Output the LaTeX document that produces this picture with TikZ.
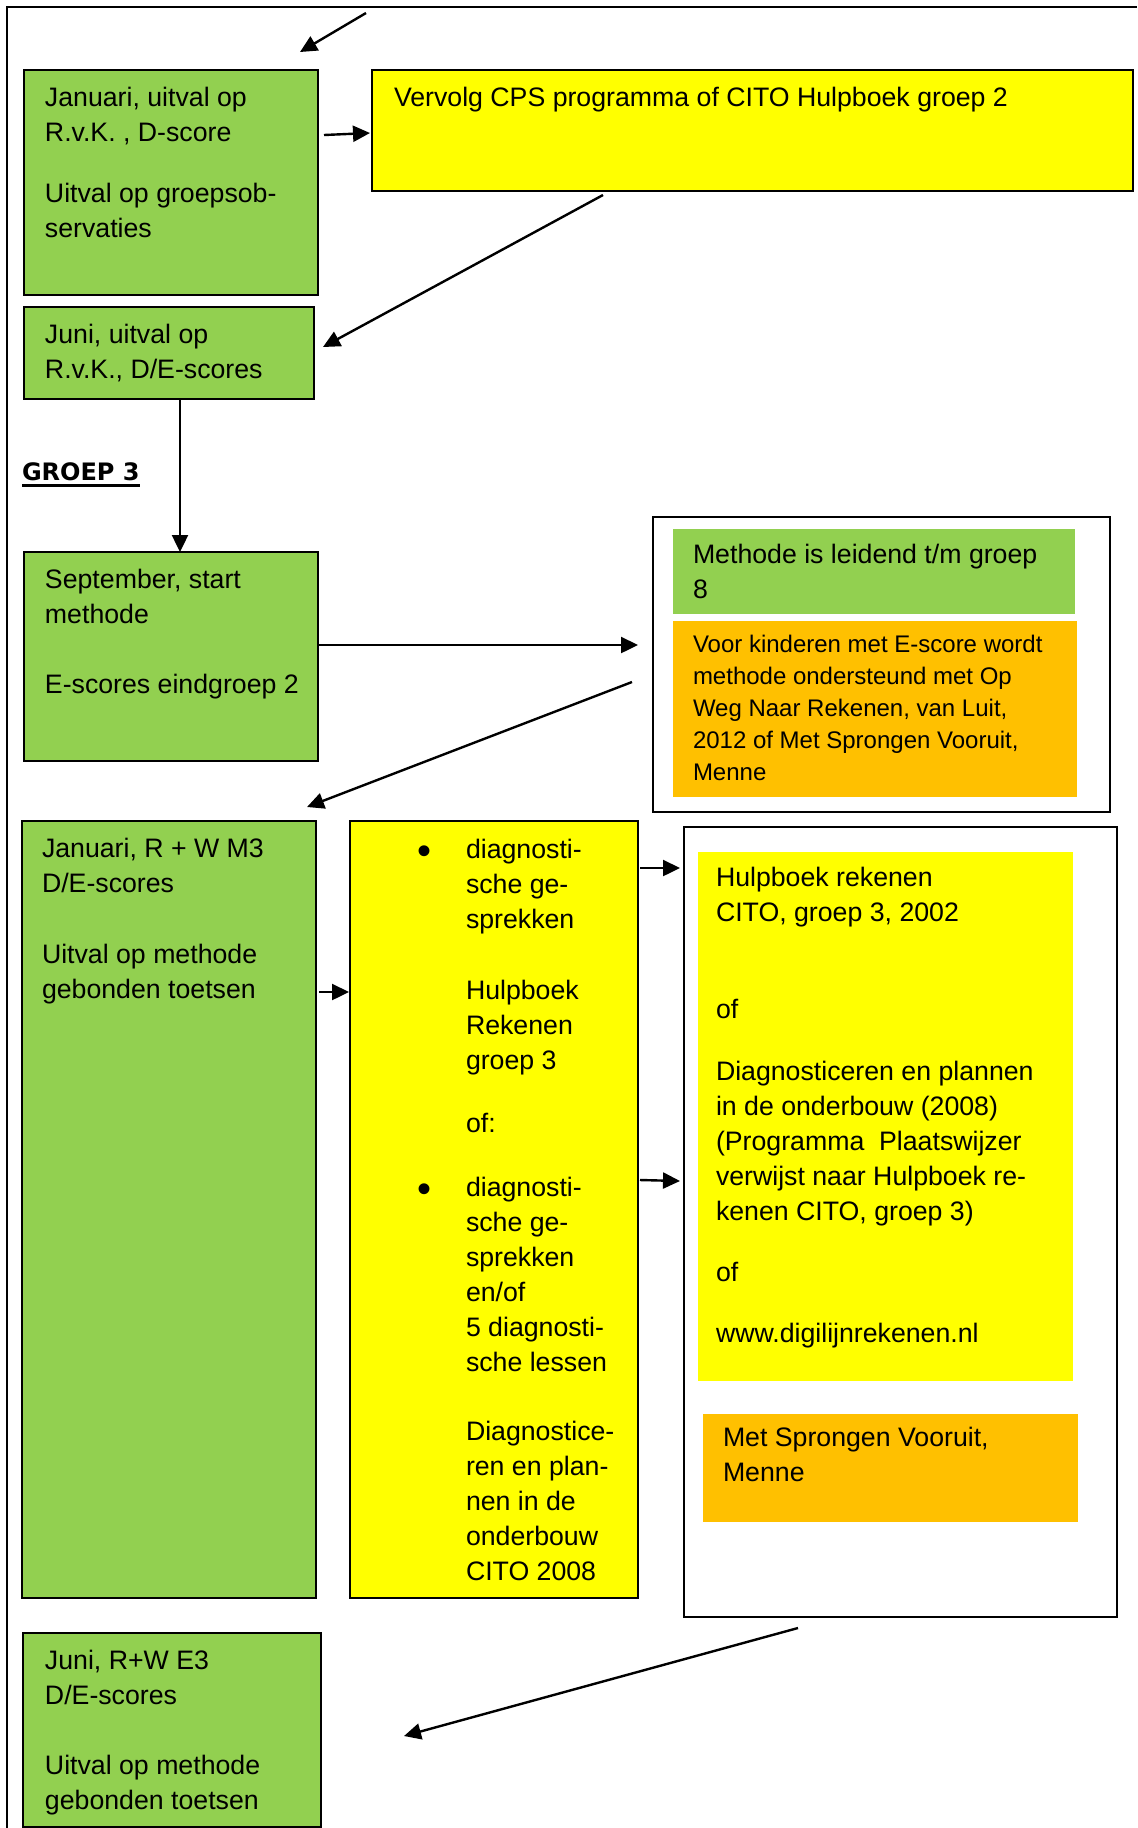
\documentclass[tikz,border=0pt]{standalone}
\usepackage{fontspec}
\setmainfont{Liberation Sans}
\newfontfamily\groepfont{DejaVu Sans}
\usetikzlibrary{arrows.meta}
\definecolor{grn}{HTML}{92D050}
\definecolor{yel}{HTML}{FFFF00}
\definecolor{org}{HTML}{FFC000}
\newcommand\pb[1]{\parbox[t]{420pt}{\raggedright #1}}
\begin{document}
\begin{tikzpicture}[x=0.5pt,y=-0.5pt,
  bx/.style={rectangle, inner sep=0pt, outer sep=0pt, anchor=north west},
  greenbox/.style={bx, fill=grn, draw=black, line width=1pt},
  yellowbox/.style={bx, fill=yel, draw=black, line width=1pt},
  whitebox/.style={bx, fill=white, draw=black, line width=1pt},
  gfill/.style={bx, fill=grn},
  yfill/.style={bx, fill=yel},
  ofill/.style={bx, fill=org},
  txt/.style={anchor=base west, inner sep=0pt, outer sep=0pt, font=\fontsize{13.35pt}{17.5pt}\selectfont},
  smalltxt/.style={txt, font=\fontsize{12pt}{16pt}\selectfont},
  bullettxt/.style={anchor=base, inner sep=0pt, outer sep=0pt, font=\fontsize{20pt}{20pt}\selectfont},
  frame/.style={line width=1.2pt},
  arr/.style={line width=1.2pt, -{Triangle[length=8.5pt,width=8pt]}}]

\useasboundingbox (0,0) rectangle (1137,1828);

% page frame
\coordinate (fbl) at (7,1828);
\coordinate (ftl) at (7,7);
\coordinate (ftr) at (1137,7);
\draw[frame] (fbl) -- (ftl) -- (ftr);

% boxes
\node[greenbox, minimum width=147pt, minimum height=112.5pt] (g1) at (24,70) {};
\node[yellowbox, minimum width=380.5pt, minimum height=60.5pt] (y1) at (372,70) {};
\node[greenbox, minimum width=145pt, minimum height=46pt] (g2) at (24,307) {};
\node[greenbox, minimum width=147pt, minimum height=104.5pt] (g3) at (24,552) {};
\node[whitebox, minimum width=228.5pt, minimum height=147.5pt] (w1) at (653,517) {};
\node[gfill, minimum width=201pt, minimum height=42.5pt] (gi) at (673,529) {};
\node[ofill, minimum width=202pt, minimum height=88pt] (oi) at (673,621) {};
\node[greenbox, minimum width=147pt, minimum height=388.5pt] (g4) at (22,821) {};
\node[yellowbox, minimum width=144pt, minimum height=388.5pt] (y2) at (350,821) {};
\node[whitebox, minimum width=216.5pt, minimum height=395pt] (w2) at (684,827) {};
\node[yfill, minimum width=187.5pt, minimum height=264.5pt] (yi) at (698,852) {};
\node[ofill, minimum width=187.5pt, minimum height=54pt] (oi2) at (703,1414) {};
\node[greenbox, minimum width=149pt, minimum height=97pt] (g5) at (23,1633) {};

% texts
\node[txt] (tg1) at (45,106) {\pb{Januari, uitval op\\R.v.K. , D-score\\[13pt]Uitval op groepsob-\\servaties}};
\node[txt] (ty1) at (394,106) {\pb{Vervolg CPS programma of CITO Hulpboek groep 2}};
\node[txt] (tg2) at (45,343) {\pb{Juni, uitval op\\R.v.K., D/E-scores}};
\node[txt, font=\groepfont\fontsize{12pt}{14pt}\selectfont\bfseries] (groep) at (22,480) {GROEP 3};
\draw[line width=1.5pt] ([yshift=-2.6pt]groep.base west) -- ([yshift=-2.6pt]groep.base east);
\node[txt] (tg3) at (45,588) {\pb{September, start\\methode\\[17.5pt]E-scores eindgroep 2}};
\node[txt] (tgi) at (693,563) {\pb{Methode is leidend t/m groep\\8}};
\node[smalltxt] (toi) at (693,652) {\pb{Voor kinderen met E-score wordt\\methode ondersteund met Op\\Weg Naar Rekenen, van Luit,\\2012 of Met Sprongen Vooruit,\\Menne}};
\node[txt] (tg4) at (42,857) {\pb{Januari, R + W M3\\D/E-scores\\[18pt]Uitval op methode\\gebonden toetsen}};
\node[bullettxt] (bul1) at (424,864) {•};
\node[bullettxt] (bul2) at (424,1202) {•};
\node[txt] (ty2) at (466,858) {\pb{diagnosti-\\sche ge-\\sprekken\\[18pt]Hulpboek\\Rekenen\\groep 3\\[14pt]of:\\[14.5pt]diagnosti-\\sche ge-\\sprekken\\en/of\\5 diagnosti-\\sche lessen\\[17pt]Diagnostice-\\ren en plan-\\nen in de\\onderbouw\\CITO 2008}};
\node[txt] (tyi) at (716,886) {\pb{Hulpboek rekenen\\CITO, groep 3, 2002\\[31pt]of\\[13.5pt]Diagnosticeren en plannen\\in de onderbouw (2008)\\(Programma\ \ Plaatswijzer\\verwijst naar Hulpboek re-\\kenen CITO, groep 3)\\[13pt]of\\[13pt]www.digilijnrekenen.nl}};
\node[txt] (toi2) at (723,1446) {\pb{Met Sprongen Vooruit,\\Menne}};
\node[txt] (tg5) at (45,1669) {\pb{Juni, R+W E3\\D/E-scores\\[17.5pt]Uitval op methode\\gebonden toetsen}};

% arrow end points
\coordinate (a0s) at (366,13);  \coordinate (a0e) at (300,52);
\coordinate (a1s) at (324,135); \coordinate (a1e) at (370,133);
\coordinate (a2s) at (603,195); \coordinate (a2e) at (323,347);
\coordinate (a3s) at (180,399); \coordinate (a3e) at (180,552);
\coordinate (a4s) at (319,645); \coordinate (a4e) at (638,645);
\coordinate (a5s) at (632,682); \coordinate (a5e) at (307,807);
\coordinate (a6s) at (319,992); \coordinate (a6e) at (349,992);
\coordinate (a7s) at (640,868); \coordinate (a7e) at (680,868);
\coordinate (a8s) at (640,1180); \coordinate (a8e) at (680,1181);
\coordinate (a9s) at (798,1628); \coordinate (a9e) at (404,1736);

\draw[arr] (a0s) -- (a0e);
\draw[arr] (a1s) -- (a1e);
\draw[arr] (a2s) -- (a2e);
\draw[arr] (a3s) -- (a3e);
\draw[arr] (a4s) -- (a4e);
\draw[arr] (a5s) -- (a5e);
\draw[arr] (a6s) -- (a6e);
\draw[arr] (a7s) -- (a7e);
\draw[arr] (a8s) -- (a8e);
\draw[arr] (a9s) -- (a9e);
\end{tikzpicture}
\end{document}
